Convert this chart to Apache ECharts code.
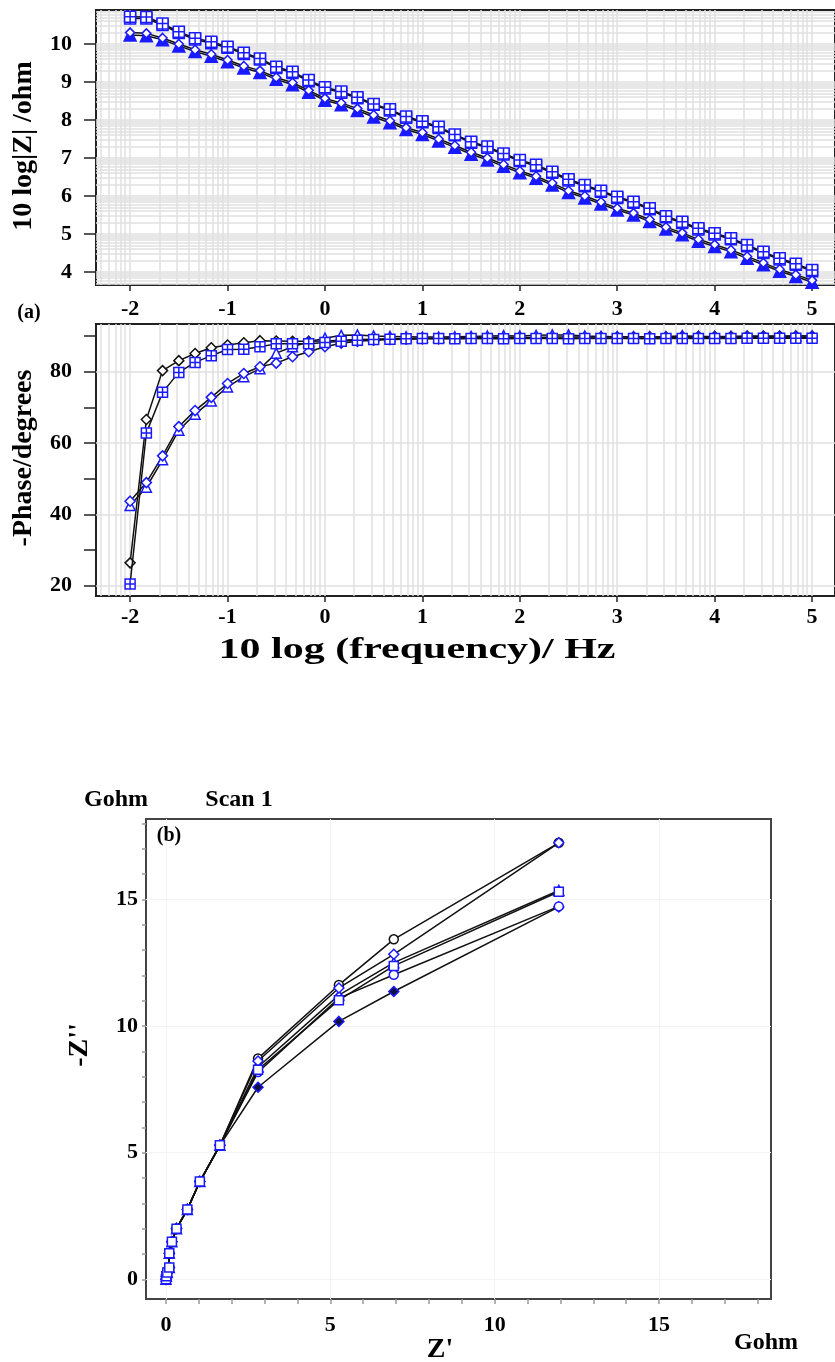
<!DOCTYPE html>
<html>
<head>
<meta charset="utf-8">
<title>Impedance spectra, scan 1</title>
<script src="https://cdn.jsdelivr.net/npm/echarts@6/dist/echarts.min.js"></script>
<style>
  html, body { margin: 0; padding: 0; background: #fff; }
  #chart { width: 835px; height: 1362px; }
</style>
</head>
<body>
<div id="chart"></div>
<script>
// 10 log(frequency / Hz), six points per decade
var logFreq = [-2, -1.833, -1.667, -1.5, -1.333, -1.167, -1, -0.833, -0.667, -0.5, -0.333, -0.167,
  0, 0.167, 0.333, 0.5, 0.667, 0.833, 1, 1.167, 1.333, 1.5, 1.667, 1.833,
  2, 2.167, 2.333, 2.5, 2.667, 2.833, 3, 3.167, 3.333, 3.5, 3.667, 3.833,
  4, 4.167, 4.333, 4.5, 4.667, 4.833, 5];

// 10 log|Z| / ohm
var modZ1 = [10.72, 10.71, 10.54, 10.32, 10.15, 10.06, 9.93, 9.77, 9.62, 9.40, 9.27, 9.05,
  8.86, 8.75, 8.60, 8.42, 8.28, 8.09, 7.97, 7.82, 7.62, 7.43, 7.30, 7.12,
  6.95, 6.82, 6.64, 6.44, 6.29, 6.14, 5.98, 5.85, 5.68, 5.47, 5.32, 5.15,
  5.02, 4.89, 4.71, 4.53, 4.36, 4.22, 4.05];
var modZ2 = [10.67, 10.67, 10.50, 10.29, 10.12, 10.02, 9.90, 9.74, 9.59, 9.37, 9.24, 9.02,
  8.83, 8.72, 8.57, 8.40, 8.25, 8.06, 7.94, 7.79, 7.60, 7.40, 7.27, 7.09,
  6.92, 6.79, 6.61, 6.41, 6.26, 6.11, 5.95, 5.82, 5.65, 5.44, 5.29, 5.12,
  4.99, 4.86, 4.68, 4.50, 4.33, 4.19, 4.02];
var modZ3 = [10.30, 10.28, 10.16, 10.00, 9.85, 9.73, 9.58, 9.42, 9.30, 9.12, 8.98, 8.78,
  8.57, 8.45, 8.30, 8.13, 7.98, 7.80, 7.67, 7.50, 7.33, 7.15, 7.00, 6.83,
  6.66, 6.52, 6.34, 6.14, 6.00, 5.84, 5.68, 5.55, 5.38, 5.18, 5.03, 4.86,
  4.72, 4.58, 4.41, 4.24, 4.07, 3.93, 3.78];
var modZ4 = [10.24, 10.22, 10.11, 9.95, 9.80, 9.68, 9.53, 9.37, 9.25, 9.07, 8.93, 8.73,
  8.52, 8.40, 8.25, 8.08, 7.93, 7.75, 7.62, 7.45, 7.28, 7.10, 6.95, 6.78,
  6.61, 6.47, 6.29, 6.09, 5.95, 5.79, 5.63, 5.50, 5.33, 5.13, 4.98, 4.81,
  4.67, 4.53, 4.36, 4.19, 4.02, 3.88, 3.73];

// -phase / degrees
var phase1 = [26.4, 66.6, 80.3, 83.1, 85.1, 86.7, 87.5, 88.1, 88.7, 88.6, 88.5, 88.5,
  88.6, 88.8, 89.0, 89.1, 89.2, 89.3, 89.4, 89.4, 89.5, 89.5, 89.5, 89.6,
  89.6, 89.6, 89.7, 89.7, 89.7, 89.7, 89.8, 89.8, 89.8, 89.8, 89.9, 89.9,
  89.9, 89.9, 90.0, 90.0, 90.0, 90.0, 90.0];
var phase2 = [20.5, 62.8, 74.2, 79.8, 82.6, 84.5, 86.2, 86.3, 87.0, 87.8, 87.8, 87.8,
  88.2, 88.5, 88.8, 89.0, 89.1, 89.2, 89.3, 89.3, 89.2, 89.3, 89.3, 89.2,
  89.3, 89.3, 89.3, 89.2, 89.3, 89.3, 89.3, 89.3, 89.2, 89.3, 89.3, 89.3,
  89.3, 89.3, 89.4, 89.4, 89.4, 89.4, 89.4];
var phase3 = [43.7, 48.9, 56.4, 64.6, 69.1, 72.8, 76.7, 79.5, 81.4, 82.4, 84.2, 85.6,
  87.0, 88.0, 88.5, 88.8, 89.0, 89.1, 89.2, 89.2, 89.3, 89.3, 89.3, 89.3,
  89.4, 89.4, 89.4, 89.4, 89.4, 89.4, 89.4, 89.4, 89.4, 89.5, 89.5, 89.5,
  89.5, 89.5, 89.5, 89.5, 89.5, 89.5, 89.5];
var phase4 = [42.5, 47.6, 55.3, 63.6, 68.1, 71.8, 75.7, 78.6, 80.8, 85.2, 87.0, 88.4,
  89.4, 90.2, 90.3, 90.0, 89.9, 89.8, 89.7, 89.7, 89.8, 89.9, 90.0, 90.1,
  90.0, 90.2, 90.3, 90.3, 90.0, 89.9, 89.8, 89.8, 89.8, 89.8, 90.1, 89.9,
  89.8, 89.8, 89.9, 89.9, 89.9, 90.0, 90.0];

// Nyquist, Gohm
var zReal = [0, 0.01, 0.04, 0.1, 0.1, 0.18, 0.32, 0.65, 1.03, 1.64, 2.80, 5.26, 6.93, 11.95];
var zImagA = [0, 0.12, 0.27, 0.47, 1.03, 1.48, 2.00, 2.76, 3.86, 5.29, 8.72, 11.62, 13.42, 17.23];
var zImagB = [0, 0.12, 0.27, 0.47, 1.03, 1.48, 2.00, 2.76, 3.86, 5.29, 8.62, 11.50, 12.83, 17.23];
var zImagC = [0, 0.12, 0.27, 0.47, 1.03, 1.48, 2.00, 2.76, 3.86, 5.29, 8.38, 11.22, 12.50, 15.35];
var zImagD = [0, 0.12, 0.27, 0.47, 1.03, 1.48, 2.00, 2.76, 3.86, 5.29, 8.27, 11.02, 12.37, 15.30];
var zImagE = [0, 0.12, 0.27, 0.47, 1.03, 1.48, 2.00, 2.76, 3.86, 5.29, 8.18, 11.10, 12.02, 14.72];
var zImagF = [0, 0.12, 0.27, 0.47, 1.03, 1.48, 2.00, 2.76, 3.86, 5.29, 7.58, 10.18, 11.36, 14.70];

var xTicks = [-2, -1, 0, 1, 2, 3, 4, 5];
var modZTicks = [4, 5, 6, 7, 8, 9, 10];
var phaseTicks = [20, 30, 40, 50, 60, 70, 80, 90];
var phaseLabels = [20, 40, 60, 80];
var nyqTicks = [0, 1, 2, 3, 4, 5, 6, 7, 8, 9, 10, 11, 12, 13, 14, 15, 16, 17, 18];
var nyqLabels = [0, 5, 10, 15];

var BLUE = '#1a1aff';
var SERIF = '"Liberation Serif", "Times New Roman", serif';

// positions of log-paper grid lines (decade + log10 k)
function logGrid(lo, hi) {
  var out = [];
  for (var d = Math.floor(lo) - 1; d <= Math.ceil(hi); d++) {
    for (var k = 1; k <= 9; k++) {
      var v = d + Math.log10(k);
      if (v > lo && v < hi) out.push(v);
    }
  }
  return out;
}

function gridSeries(idx, xs, ys, color, width) {
  var data = [];
  xs.forEach(function (v) { data.push({ xAxis: v }); });
  ys.forEach(function (v) { data.push({ yAxis: v }); });
  return {
    type: 'line', xAxisIndex: idx, yAxisIndex: idx, data: [], z: 1, silent: true,
    markLine: {
      z: 1, silent: true, symbol: ['none', 'none'], animation: false,
      label: { show: false },
      lineStyle: { color: color, width: width, type: 'solid' },
      emphasis: { disabled: true },
      data: data
    }
  };
}

function pairs(xs, ys) {
  return xs.map(function (x, i) { return [x, ys[i]]; });
}

var crossBox = 'path://M0,0H10V10H0Z M5,0V10 M0,5H10';

function curve(idx, xs, ys, symbol, size, fill, stroke, lineW, z) {
  return {
    type: 'line', xAxisIndex: idx, yAxisIndex: idx, z: z,
    data: pairs(xs, ys),
    symbol: symbol, symbolSize: size, showAllSymbol: true,
    lineStyle: { color: '#111', width: lineW },
    itemStyle: { color: fill, borderColor: stroke, borderWidth: 1.5 },
    emphasis: { disabled: true },
    animation: false
  };
}

var labelStyle = { fontFamily: SERIF, fontWeight: 'bold', fontSize: 22, color: '#000' };

function axis(idx, min, max, ticks, labels, tickLen, margin, lineColor, tickColor) {
  return {
    gridIndex: idx, type: 'value', min: min, max: max,
    axisLine: { show: true, onZero: false, lineStyle: { color: lineColor, width: 2 } },
    axisTick: { show: true, customValues: ticks, length: tickLen, lineStyle: { color: tickColor, width: 1.5 } },
    axisLabel: Object.assign({ customValues: labels, margin: margin }, labelStyle),
    splitLine: { show: false }
  };
}

function txt(text, x, y, size, rot, sx) {
  return {
    type: 'text', x: x, y: y, rotation: rot || 0, scaleX: sx || 1, silent: true, z: 100,
    style: {
      text: text, fill: '#000', font: 'bold ' + size + 'px ' + SERIF,
      textAlign: 'center', textVerticalAlign: 'middle'
    }
  };
}

var chart = echarts.init(document.getElementById('chart'));

var X_MIN = -2.35, X_MAX = 5.235;

chart.setOption({
  backgroundColor: '#fff',
  animation: false,
  grid: [
    { left: 96, top: 10, width: 740, height: 275, show: true, borderColor: '#222', borderWidth: 2, backgroundColor: 'transparent' },
    { left: 96, top: 324, width: 740, height: 272, show: true, borderColor: '#222', borderWidth: 2, backgroundColor: 'transparent' },
    { left: 146, top: 819, width: 625, height: 480, show: true, borderColor: '#444', borderWidth: 2, backgroundColor: 'transparent' }
  ],
  xAxis: [
    axis(0, X_MIN, X_MAX, xTicks, xTicks, 6, 13, '#222', '#222'),
    axis(1, X_MIN, X_MAX, xTicks, xTicks, 6, 10, '#222', '#222'),
    axis(2, -0.608, 18.405, nyqTicks, nyqLabels, 5, 15, '#444', '#999')
  ],
  yAxis: [
    axis(0, 3.658, 10.895, modZTicks, modZTicks, 12, 24, '#222', '#222'),
    axis(1, 17.11, 93.37, phaseTicks, phaseLabels, 12, 24, '#222', '#222'),
    axis(2, -0.777, 18.17, nyqTicks, nyqLabels, 4, 8, '#444', '#999')
  ],
  graphic: [
    txt('10 log|Z| /ohm', 24, 146, 28, Math.PI / 2),
    txt('(a)', 29, 313, 20),
    txt('-Phase/degrees', 24, 458, 28, Math.PI / 2),
    txt('10 log (frequency)/ Hz', 417, 650, 30, 0, 1.4),
    txt('Gohm', 116, 800, 24),
    txt('Scan 1', 239, 800, 24),
    txt('(b)', 169, 836, 20),
    txt("-Z''", 80, 1045, 28, Math.PI / 2),
    txt("Z'", 440, 1350, 28),
    txt('Gohm', 766, 1343, 24)
  ],
  series: [
    gridSeries(0, logGrid(X_MIN, X_MAX), logGrid(3.658, 10.895), '#e0e0e0', 1.5),
    gridSeries(1, logGrid(X_MIN, X_MAX), phaseLabels, '#e0e0e0', 1.5),
    gridSeries(2, nyqLabels, nyqLabels, '#f3f3f3', 1),

    // |Z|
    curve(0, logFreq, modZ4, 'triangle', 12, BLUE, BLUE, 1.5, 3),
    curve(0, logFreq, modZ3, 'diamond', 9, '#fff', BLUE, 1.5, 4),
    curve(0, logFreq, modZ2, crossBox, 11, '#fff', BLUE, 1.5, 3),
    curve(0, logFreq, modZ1, crossBox, 11, '#fff', BLUE, 1.5, 4),

    // phase
    curve(1, logFreq, phase1, 'diamond', 10, '#fff', '#111', 1.5, 2),
    curve(1, logFreq, phase4, 'triangle', 10, '#fff', BLUE, 1.5, 3),
    curve(1, logFreq, phase3, 'diamond', 10, '#fff', BLUE, 1.5, 3),
    curve(1, logFreq, phase2, crossBox, 10, '#fff', BLUE, 1.5, 4),

    // Nyquist
    curve(2, zReal, zImagF, 'diamond', 10, '#101040', BLUE, 1.5, 2),
    curve(2, zReal, zImagA, 'circle', 9, '#fff', '#111', 1.5, 2),
    curve(2, zReal, zImagE, 'circle', 9, '#fff', BLUE, 1.5, 3),
    curve(2, zReal, zImagC, 'triangle', 10, '#fff', BLUE, 1.5, 3),
    curve(2, zReal, zImagB, 'diamond', 10, '#fff', BLUE, 1.5, 3),
    curve(2, zReal, zImagD, 'rect', 9, '#fff', BLUE, 1.5, 4)
  ]
});

window.addEventListener('resize', function () {
  chart.resize();
});
</script>
</body>
</html>
